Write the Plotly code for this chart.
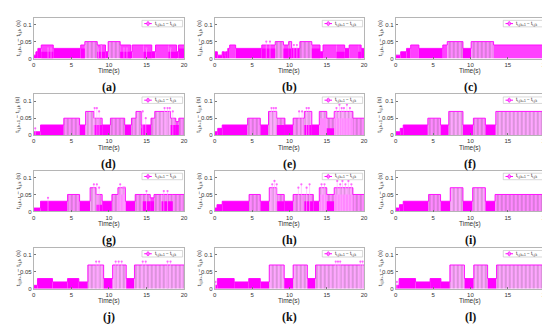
import plotly.graph_objects as go

# ---------------- data ----------------
# segment boundaries (s), top interval level per segment, lower (denser) level per segment
a_t = [0, 0.3, 0.55, 1.0, 2.6, 6.25, 6.8, 8.45, 9.55, 9.9, 11.5, 12.9, 13.1, 14.6, 15.7, 16.2, 17.9, 19.0, 19.25, 20]
a_h = [0.01, 0.02, 0.03, 0.04, 0.03, 0.04, 0.05, 0.04, 0.02, 0.05, 0.04, 0.02, 0.04, 0.04, 0.02, 0.04, 0.04, 0.02, 0.04]
a_lo = [0.01, 0.02, 0.03, 0.02, 0.03, 0.03, 0.05, 0.02, 0.02, 0.05, 0.02, 0.02, 0.04, 0.02, 0.02, 0.04, 0.02, 0.02, 0.03]
a_st = [1.9, 2.3, 8.6, 9.0, 12.0, 12.4, 15.0, 18.2]
a_sh = [0.03, 0.03, 0.03, 0.04, 0.03, 0.03, 0.03, 0.03]

b_t = [0, 0.35, 1.0, 1.3, 1.45, 1.75, 2.0, 2.8, 6.3, 8.1, 9.2, 9.9, 10.3, 11.4, 13.0, 14.1, 14.5, 16.3, 17.4, 18.0, 19.2, 19.6, 20]
b_h = [0.02, 0.01, 0.02, 0.01, 0.02, 0.03, 0.04, 0.03, 0.04, 0.05, 0.04, 0.05, 0.03, 0.05, 0.04, 0.02, 0.04, 0.04, 0.03, 0.04, 0.04, 0.03]
b_lo = [0.02, 0.01, 0.02, 0.01, 0.02, 0.03, 0.04, 0.03, 0.03, 0.05, 0.03, 0.03, 0.03, 0.05, 0.03, 0.02, 0.04, 0.02, 0.03, 0.04, 0.02, 0.03]
b_st = [6.9, 7.4, 10.6, 11.0]
b_sh = [0.05, 0.05, 0.04, 0.04]

c_t = [0, 0.66, 1.45, 2.0, 3.1, 6.3, 6.9, 9.0, 10.1, 13.1, 20]
c_h = [0.01, 0.02, 0.03, 0.04, 0.03, 0.04, 0.05, 0.03, 0.05, 0.04]
c_lo = [0.01, 0.02, 0.03, 0.04, 0.03, 0.04, 0.05, 0.03, 0.05, 0.04]
c_st = []
c_sh = []

d_t = [0, 0.9, 4.0, 6.1, 6.9, 8.0, 9.1, 10.2, 12.1, 13.0, 13.6, 14.3, 15.6, 16.1, 18.2, 18.9, 19.3, 20]
d_h = [0.01, 0.03, 0.05, 0.03, 0.07, 0.05, 0.03, 0.05, 0.03, 0.05, 0.07, 0.03, 0.05, 0.07, 0.05, 0.04, 0.05]
d_lo = [0.01, 0.03, 0.05, 0.03, 0.07, 0.03, 0.03, 0.05, 0.03, 0.05, 0.07, 0.02, 0.05, 0.07, 0.03, 0.03, 0.05]
d_st = [0.2, 8.1, 8.4, 8.7, 14.5, 14.9, 17.4, 17.8, 18.1, 18.5]
d_sh = [0.02, 0.08, 0.08, 0.07, 0.07, 0.05, 0.08, 0.08, 0.08, 0.07]

e_t = [0, 0.4, 1.0, 4.4, 6.1, 7.2, 8.3, 9.4, 10.5, 12.0, 13.0, 14.0, 15.0, 16.0, 18.5, 20]
e_h = [0.01, 0.02, 0.03, 0.05, 0.03, 0.07, 0.05, 0.03, 0.05, 0.07, 0.03, 0.07, 0.05, 0.07, 0.05]
e_lo = [0.01, 0.02, 0.03, 0.05, 0.03, 0.07, 0.03, 0.03, 0.05, 0.03, 0.03, 0.05, 0.02, 0.05, 0.05]
e_st = [7.6, 7.9, 8.2, 11.3, 11.7, 12.3, 12.6, 16.3, 16.7, 17.0, 17.3, 17.7, 18.1]
e_sh = [0.08, 0.08, 0.08, 0.07, 0.07, 0.08, 0.08, 0.08, 0.09, 0.08, 0.08, 0.09, 0.08]

f_t = [0, 0.6, 1.0, 4.3, 6.0, 7.1, 9.0, 10.4, 12.0, 13.4, 20]
f_h = [0.01, 0.02, 0.03, 0.05, 0.03, 0.07, 0.03, 0.05, 0.03, 0.07]
f_lo = [0.01, 0.02, 0.03, 0.05, 0.03, 0.07, 0.03, 0.05, 0.03, 0.07]
f_st = []
f_sh = []

g_t = [0, 0.9, 4.5, 6.1, 7.5, 8.3, 9.1, 10.4, 11.2, 12.2, 13.5, 14.5, 15.5, 16.0, 17.0, 18.5, 20]
g_h = [0.01, 0.03, 0.05, 0.03, 0.07, 0.05, 0.03, 0.05, 0.07, 0.03, 0.05, 0.05, 0.04, 0.05, 0.05, 0.05]
g_lo = [0.01, 0.03, 0.05, 0.03, 0.07, 0.02, 0.03, 0.05, 0.05, 0.03, 0.05, 0.03, 0.03, 0.05, 0.03, 0.05]
g_st = [1.9, 8.0, 8.4, 8.7, 11.5, 11.9, 12.1, 15.0, 17.3, 17.8]
g_sh = [0.04, 0.08, 0.08, 0.07, 0.08, 0.07, 0.07, 0.06, 0.06, 0.06]

h_t = [0, 0.3, 1.0, 4.6, 6.1, 7.3, 8.3, 9.3, 10.5, 12.0, 13.2, 14.0, 15.0, 16.0, 18.5, 20]
h_h = [0.01, 0.02, 0.03, 0.05, 0.03, 0.07, 0.05, 0.03, 0.05, 0.05, 0.03, 0.07, 0.05, 0.07, 0.05]
h_lo = [0.01, 0.02, 0.03, 0.05, 0.03, 0.07, 0.03, 0.03, 0.05, 0.03, 0.03, 0.05, 0.03, 0.05, 0.05]
h_st = [7.7, 8.0, 8.3, 11.2, 11.6, 12.3, 12.7, 14.3, 14.7, 16.4, 16.8, 17.1, 17.5, 17.9, 18.3]
h_sh = [0.08, 0.09, 0.08, 0.07, 0.08, 0.07, 0.08, 0.08, 0.08, 0.09, 0.08, 0.09, 0.08, 0.09, 0.08]

i_t = [0, 0.5, 1.0, 4.4, 6.0, 7.3, 9.0, 10.3, 12.0, 13.3, 20]
i_h = [0.01, 0.02, 0.03, 0.05, 0.03, 0.07, 0.03, 0.07, 0.03, 0.05]
i_lo = [0.01, 0.02, 0.03, 0.05, 0.03, 0.07, 0.03, 0.07, 0.03, 0.05]
i_st = []
i_sh = []

j_t = [0, 0.5, 2.5, 4.5, 6.0, 7.2, 9.3, 10.5, 12.3, 13.4, 20]
j_h = [0.01, 0.03, 0.02, 0.03, 0.02, 0.07, 0.03, 0.07, 0.03, 0.07]
j_lo = [0.01, 0.03, 0.02, 0.03, 0.02, 0.07, 0.03, 0.07, 0.03, 0.07]
j_st = [8.3, 8.7, 10.9, 11.3, 11.7, 14.5, 14.9, 17.8, 18.2]
j_sh = [0.08, 0.08, 0.08, 0.08, 0.08, 0.08, 0.08, 0.08, 0.08]

k_t = [0, 0.35, 2.6, 4.55, 6.1, 7.3, 9.3, 10.5, 12.4, 13.5, 20]
k_h = [0.01, 0.03, 0.02, 0.03, 0.02, 0.07, 0.03, 0.07, 0.03, 0.07]
k_lo = [0.01, 0.03, 0.02, 0.03, 0.02, 0.07, 0.03, 0.07, 0.03, 0.07]
k_st = [0.1, 16.2, 16.5, 16.8, 19.5, 19.8]
k_sh = [0.02, 0.08, 0.08, 0.08, 0.08, 0.08]

l_t = [0, 0.45, 2.65, 4.6, 6.05, 7.25, 9.2, 10.45, 12.3, 13.5, 20]
l_h = [0.01, 0.03, 0.02, 0.03, 0.02, 0.07, 0.03, 0.07, 0.03, 0.07]
l_lo = [0.01, 0.03, 0.02, 0.03, 0.02, 0.07, 0.03, 0.07, 0.03, 0.07]
l_st = [0.15]
l_sh = [0.02]

panel_labels = ["(a)", "(b)", "(c)", "(d)", "(e)", "(f)", "(g)", "(h)", "(i)", "(j)", "(k)", "(l)"]
x_ticks = [0, 5, 10, 15, 20]
y_ticks = [0, 0.05, 0.1]
y_tick_text = ["0", "0.05", "0.1"]

panels = [
    (a_t, a_h, a_lo, a_st, a_sh), (b_t, b_h, b_lo, b_st, b_sh), (c_t, c_h, c_lo, c_st, c_sh),
    (d_t, d_h, d_lo, d_st, d_sh), (e_t, e_h, e_lo, e_st, e_sh), (f_t, f_h, f_lo, f_st, f_sh),
    (g_t, g_h, g_lo, g_st, g_sh), (h_t, h_h, h_lo, h_st, h_sh), (i_t, i_h, i_lo, i_st, i_sh),
    (j_t, j_h, j_lo, j_st, j_sh), (k_t, k_h, k_lo, k_st, k_sh), (l_t, l_h, l_lo, l_st, l_sh),
]

# ---------------- styling / layout ----------------
W, H = 550, 325
col_px = [(24, 176), (207, 358), (390, 541)]
row_bottom_px = [51, 128.3, 205.3, 283.3]
plot_h = 41
MAG = "#FF00FF"


def col_of(v):
    if v <= 0.031:
        return "#FF00FF"
    if v <= 0.041:
        return "#FF40FF"
    if v <= 0.051:
        return "#FF88FF"
    return "#FFA6FF"


def pat_of(v):
    return "|" if v > 0.041 else ""


fig = go.Figure()
layout = dict(
    width=W, height=H, margin=dict(l=0, r=0, t=0, b=0),
    paper_bgcolor="white", plot_bgcolor="white",
    showlegend=False, barmode="overlay",
    font=dict(family="Liberation Sans, Arial, sans-serif", color="#333333"),
)
annotations = []
shapes = []

ytitle = "t<sub>i,j,k+1</sub> − t<sub>i,j,k</sub> (s)"
legtext = "t<sub>i,j,k+1</sub> − t<sub>i,j,k</sub>"

for idx, (t, h, lo, st, sh) in enumerate(panels):
    r, c = divmod(idx, 3)
    n = idx + 1
    xa = "x" if n == 1 else f"x{n}"
    ya = "y" if n == 1 else f"y{n}"
    xl, xr = col_px[c]
    yb = row_bottom_px[r]
    yt = yb - plot_h

    mids = [(t[i] + t[i + 1]) / 2 for i in range(len(h))]
    widths = [t[i + 1] - t[i] for i in range(len(h))]

    # upper level blocks (sparser stems look lighter)
    fig.add_trace(go.Bar(
        x=mids, y=h, width=widths, xaxis=xa, yaxis=ya,
        marker=dict(color=[col_of(v) for v in h], line=dict(width=0),
                    pattern=dict(shape=[pat_of(v) for v in h], fgcolor="white",
                                 fgopacity=0.55, size=4, solidity=0.18, fillmode="overlay")),
        hoverinfo="skip"))
    # denser lower part
    fig.add_trace(go.Bar(
        x=mids, y=lo, width=widths, xaxis=xa, yaxis=ya,
        marker=dict(color=[col_of(v) for v in lo], line=dict(width=0),
                    opacity=[1 if lo[i] < h[i] else 0 for i in range(len(h))]),
        hoverinfo="skip"))
    # top envelope (stem markers)
    fig.add_trace(go.Scatter(
        x=t, y=h + [h[-1]], xaxis=xa, yaxis=ya, mode="lines",
        line=dict(color=MAG, width=0.9, shape="hv"), hoverinfo="skip"))
    # isolated stems
    if st:
        sx, sy = [], []
        for tt, hh in zip(st, sh):
            sx += [tt, tt, None]
            sy += [0, hh, None]
        fig.add_trace(go.Scatter(x=sx, y=sy, xaxis=xa, yaxis=ya, mode="lines",
                                 line=dict(color="#FFB0FF", width=0.6), hoverinfo="skip"))
        fig.add_trace(go.Scatter(x=st, y=sh, xaxis=xa, yaxis=ya, mode="markers",
                                 marker=dict(symbol="circle", size=2.2, color="#FF66FF",
                                             line=dict(width=0)),
                                 hoverinfo="skip"))

    axkey_x = "xaxis" if n == 1 else f"xaxis{n}"
    axkey_y = "yaxis" if n == 1 else f"yaxis{n}"
    layout[axkey_x] = dict(
        domain=[xl / W, xr / W], range=[0, 20], anchor=ya,
        tickvals=x_ticks, ticktext=[str(v) for v in x_ticks],
        ticks="inside", ticklen=2, tickcolor="#777777", tickwidth=0.6,
        showline=True, mirror=True, linecolor="#b5b5b5", linewidth=0.8,
        showgrid=False, zeroline=False, tickfont=dict(size=6, color="#333333"),
        fixedrange=True)
    layout[axkey_y] = dict(
        domain=[1 - yb / H, 1 - yt / H], range=[0, 0.12], anchor=xa,
        tickvals=y_ticks, ticktext=y_tick_text,
        ticks="inside", ticklen=2, tickcolor="#777777", tickwidth=0.6,
        showline=True, mirror=True, linecolor="#b5b5b5", linewidth=0.8,
        showgrid=False, zeroline=False, tickfont=dict(size=6, color="#333333"),
        fixedrange=True)

    # axis titles
    annotations.append(dict(x=(xl + xr) / 2 / W, y=1 - (yb + 12.5) / H, xref="paper", yref="paper",
                            text="Time(s)", showarrow=False, font=dict(size=6.5, color="#333333"),
                            xanchor="center", yanchor="middle"))
    annotations.append(dict(x=(xl - 16) / W, y=1 - (yb - plot_h / 2) / H, xref="paper", yref="paper",
                            text=ytitle, showarrow=False, textangle=-90,
                            font=dict(size=6, color="#333333"), xanchor="center", yanchor="middle"))
    # panel label
    annotations.append(dict(x=(xl + xr) / 2 / W, y=1 - (yb + 29) / H, xref="paper", yref="paper",
                            text="<b>" + panel_labels[idx] + "</b>", showarrow=False,
                            font=dict(size=12, family="Liberation Serif, Times New Roman, serif", color="#111111"),
                            xanchor="center", yanchor="middle"))
    # legend box
    xd = f"{xa} domain"
    yd = f"{ya} domain"
    shapes.append(dict(type="rect", xref=xd, yref=yd, x0=0.72, x1=0.99, y0=0.78, y1=0.94,
                       line=dict(color="#bdbdbd", width=0.6), fillcolor="white", layer="above"))
    shapes.append(dict(type="line", xref=xd, yref=yd, x0=0.735, x1=0.785, y0=0.86, y1=0.86,
                       line=dict(color=MAG, width=1), layer="above"))
    shapes.append(dict(type="circle", xref=xd, yref=yd, x0=0.752, x1=0.768, y0=0.81, y1=0.91,
                       line=dict(color=MAG, width=0.7), fillcolor="#FF88FF", layer="above"))
    annotations.append(dict(x=0.79, y=0.86, xref=xd, yref=yd, text=legtext, showarrow=False,
                            font=dict(size=4.6, color="#222222"), xanchor="left", yanchor="middle"))

layout["annotations"] = annotations
layout["shapes"] = shapes
fig.update_layout(**layout)
fig.write_html("out.html")
